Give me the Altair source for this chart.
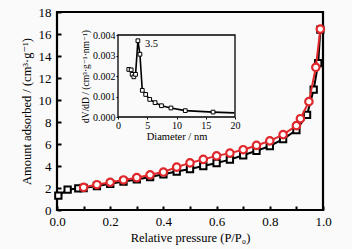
import altair as alt
import pandas as pd

# ---- main isotherm data ----
p_black = [0.005, 0.04, 0.08, 0.10, 0.15, 0.20, 0.25, 0.30, 0.35, 0.40, 0.45, 0.50,
           0.55, 0.60, 0.65, 0.70, 0.75, 0.80, 0.85, 0.90, 0.94, 0.965, 0.982, 0.99]
v_black = [1.30, 1.85, 1.97, 2.00, 2.18, 2.38, 2.58, 2.78, 3.00, 3.25, 3.50, 3.73,
           4.00, 4.27, 4.58, 4.98, 5.38, 5.82, 6.45, 7.27, 8.65, 10.95, 13.35, 16.40]

p_red = [0.10, 0.15, 0.20, 0.25, 0.30, 0.35, 0.40, 0.45, 0.50, 0.55, 0.60, 0.65,
         0.70, 0.75, 0.80, 0.85, 0.90, 0.915, 0.947, 0.973, 0.99]
v_red = [2.06, 2.30, 2.52, 2.73, 2.94, 3.20, 3.45, 3.90, 4.28, 4.60, 4.92, 5.17,
         5.48, 5.87, 6.28, 6.85, 7.67, 8.30, 9.85, 12.97, 16.45]

# ---- inset pore size distribution ----
d_psd = [1.84, 2.25, 2.42, 2.71, 3.0, 3.4, 3.75, 4.15, 4.73, 5.42, 6.34, 7.43,
         9.05, 11.5, 16.25, 19.9]
v_psd = [0.00232, 0.00230, 0.00208, 0.00196, 0.00208, 0.00372, 0.00306, 0.00130,
         0.00110, 0.00086, 0.00070, 0.00055, 0.00044, 0.00031, 0.00024, 0.00020]
marker_psd = [True] * 15 + [False]

peak_label = "3.5"
peak_d = 3.4
peak_v = 0.00372

BG = "#fafafa"
FONT = "'Liberation Serif', 'Times New Roman', 'DejaVu Serif', serif"
RED = "#e0282c"

W, H = 266, 198

df_black = pd.DataFrame({"P": p_black, "V": v_black})
df_red = pd.DataFrame({"P": p_red, "V": v_red})
df_psd = pd.DataFrame({"D": d_psd, "v": v_psd, "m": marker_psd})

xs = alt.Scale(domain=[0, 1], nice=False)
ys = alt.Scale(domain=[0, 18], nice=False)

red = alt.Chart(df_red).mark_line(
    color=RED, strokeWidth=2,
    point=alt.OverlayMarkDef(shape="circle", size=55, filled=False, fill="white",
                             stroke=RED, strokeWidth=2.2, opacity=1)
).encode(
    x=alt.X("P:Q", scale=xs, axis=alt.Axis(
        title="Relative pressure (P/P₀)", values=[0, 0.2, 0.4, 0.6, 0.8, 1.0], format=".1f",
        ticks=False, tickSize=0, domain=False, grid=False, labelPadding=5, labelFlush=False,
        labelFont=FONT, labelFontSize=13, labelColor="black",
        titleFont=FONT, titleFontSize=12.5, titleFontWeight="normal", titleColor="black",
        titlePadding=3)),
    y=alt.Y("V:Q", scale=ys, axis=alt.Axis(
        title="Amount adsorbed / (cm³·g⁻¹)", values=list(range(0, 19, 2)),
        ticks=False, tickSize=0, domain=False, grid=False, labelPadding=6, labelFlush=False,
        labelFont=FONT, labelFontSize=13, labelColor="black",
        titleFont=FONT, titleFontSize=12.5, titleFontWeight="normal", titleColor="black",
        titlePadding=5)),
)

black = alt.Chart(df_black).mark_line(
    color="black", strokeWidth=2,
    point=alt.OverlayMarkDef(shape="square", size=40, filled=False, fill="white",
                             stroke="black", strokeWidth=2, opacity=1)
).encode(
    x=alt.X("P:Q", scale=xs, axis=alt.Axis(
        orient="top", offset=-H, labels=False, title=None, domain=False, grid=False,
        values=[round(i * 0.1, 1) for i in range(11)], tickSize=4, tickWidth=2,
        tickColor="black")),
    y=alt.Y("V:Q", scale=ys, axis=alt.Axis(
        orient="right", offset=-W, labels=False, title=None, domain=False, grid=False,
        values=list(range(0, 19, 2)), tickSize=4, tickWidth=2, tickColor="black")),
)

# ---- inset ----
ix = alt.Scale(domain=[0, 20], range=[61, 178], nice=False)
iy = alt.Scale(domain=[0, 0.004], range=[105, 23], nice=False)
inset_x = alt.X("D:Q", scale=ix, axis=alt.Axis(
    orient="bottom", offset=-(H - 105), title="Diameter / nm", values=[0, 5, 10, 15, 20],
    domain=False, grid=False, tickSize=2, tickColor="black", labelPadding=1, labelFlush=False,
    labelFont=FONT, labelFontSize=10, labelColor="black",
    titleFont=FONT, titleFontSize=10.5, titleFontWeight="normal", titleColor="black",
    titlePadding=1))
inset_y = alt.Y("v:Q", scale=iy, axis=alt.Axis(
    orient="left", offset=-61, title="dV/dD / (cm³·g⁻¹·nm⁻¹)",
    values=[0, 0.001, 0.002, 0.003, 0.004], format=".3f",
    domain=False, grid=False, tickSize=2, tickColor="black", labelPadding=1, labelFlush=False,
    labelFont=FONT, labelFontSize=10, labelColor="black",
    titleFont=FONT, titleFontSize=9.5, titleFontWeight="normal", titleColor="black",
    titlePadding=2))

frame_df = pd.DataFrame({"D": [0], "D2": [20], "v": [0], "v2": [0.004]})
frame = alt.Chart(frame_df).mark_rect(fill=BG, stroke="black", strokeWidth=1.3).encode(
    x=inset_x, x2="D2:Q", y=inset_y, y2="v2:Q")
iline = alt.Chart(df_psd).mark_line(color="black", strokeWidth=1.6).encode(
    x=inset_x, y=inset_y)
ipts = alt.Chart(df_psd).transform_filter("datum.m").mark_point(
    shape="square", size=14, filled=False, fill="white", stroke="black",
    strokeWidth=1, opacity=1).encode(x=inset_x, y=inset_y)
lab_df = pd.DataFrame({"D": [peak_d], "v": [peak_v], "t": [peak_label]})
ilab = alt.Chart(lab_df).mark_text(
    align="left", baseline="middle", dx=7, dy=3, font=FONT, fontSize=10.5, color="black"
).encode(x=inset_x, y=inset_y, text="t:N")

inset = alt.layer(frame, iline, ipts, ilab)

chart = alt.layer(black, red, inset).resolve_scale(
    x="independent", y="independent"
).resolve_axis(x="independent", y="independent").properties(
    width=W, height=H,
    autosize=alt.AutoSizeParams(type="none"),
    padding={"left": 57, "top": 12, "right": 29, "bottom": 39},
    background=BG,
).configure_view(stroke="black", strokeWidth=2.2)

chart.save("out.html", embed_options={"renderer": "svg", "actions": False})
